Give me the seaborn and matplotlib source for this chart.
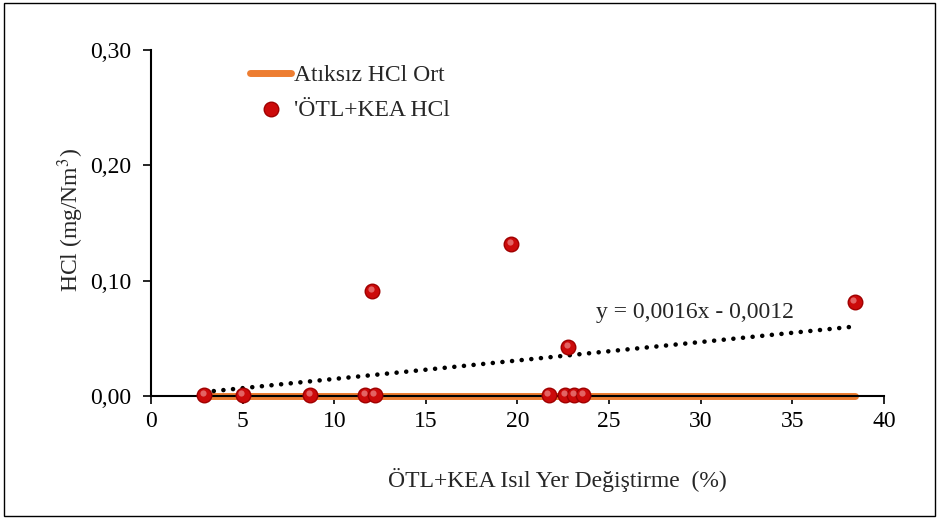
import numpy as np
import pandas as pd
import matplotlib
matplotlib.use("Agg")
import matplotlib.pyplot as plt
from matplotlib.patches import Rectangle
import seaborn as sns

# Isıl yer değiştirme oranı (%) ve ölçülen HCl (mg/Nm3)
replacement = [2.9, 5.0, 8.7, 11.7, 12.05, 12.2, 19.65, 21.7, 22.6, 22.75, 23.1, 23.6, 38.4]
hcl = [0.001, 0.001, 0.001, 0.001, 0.091, 0.001, 0.132, 0.001, 0.001, 0.0425, 0.001, 0.001, 0.0815]

# Atıksız ortalama HCl seviyesi
baseline_x = [2.9, 38.4]
baseline_y = [0.0, 0.0]

# Doğrusal eğilim: y = 0,0016x - 0,0012
slope, intercept = 0.0016, -0.0012
trend_label = "y = 0,0016x - 0,0012"

x_ticks = [0, 5, 10, 15, 20, 25, 30, 35, 40]
y_ticks = [0.0, 0.10, 0.20, 0.30]
y_tick_labels = ["0,00", "0,10", "0,20", "0,30"]

sns.set_theme(style="ticks")
plt.rcParams["font.family"] = ["Liberation Serif", "DejaVu Serif"]
plt.rcParams["mathtext.fontset"] = "stix"

FS = 17

fig = plt.figure(figsize=(9.39, 5.19), dpi=100)
ax = fig.add_axes([0.1608, 0.237, 0.7806, 0.6667])

df_base = pd.DataFrame({"x": baseline_x, "y": baseline_y})
df_pts = pd.DataFrame({"x": replacement, "y": hcl})

sns.lineplot(data=df_base, x="x", y="y", ax=ax, color="#ED7D31", linewidth=5,
             label="Atıksız HCl Ort", zorder=2)

tx = np.array([min(replacement), max(replacement) - 0.3])
ax.plot(tx, slope * tx + intercept, linestyle=(0, (0.01, 2.1)), color="black",
        linewidth=3.3, zorder=3, dash_capstyle="round")

sns.scatterplot(data=df_pts, x="x", y="y", ax=ax, s=110, color="#CC0A0A",
                edgecolor="#A00000", linewidth=1.0, label="'ÖTL+KEA HCl", zorder=4)
# parlaklık vurgusu
ax.scatter(np.array(replacement) - 0.07, np.array(hcl) + 0.0018, s=20,
           color="#F4A0A0", alpha=0.6, linewidth=0, zorder=5)

ax.text(29.7, 0.072, trend_label, fontsize=FS, ha="center", va="center")

ax.set_xlim(0, 40)
ax.set_ylim(0, 0.30)
ax.set_xticks(x_ticks)
ax.set_yticks(y_ticks)
ax.set_yticklabels(y_tick_labels)
ax.tick_params(axis="both", labelsize=FS, direction="out", length=6, width=1.2,
               color="black", labelcolor="black")
ax.tick_params(axis="y", pad=8)
ax.tick_params(axis="x", pad=5)
for side in ("top", "right"):
    ax.spines[side].set_visible(False)
for side in ("left", "bottom"):
    ax.spines[side].set_linewidth(1.5)
    ax.spines[side].set_color("black")
for c in ax.collections + ax.lines:
    c.set_clip_on(False)

ax.set_xlabel("ÖTL+KEA Isıl Yer Değiştirme  (%)", fontsize=FS, va="center", ha="center")
ax.xaxis.set_label_coords(0.554, -0.243)
ax.set_ylabel("HCl (mg/Nm$^3$)", fontsize=FS, va="center", ha="center")
ax.yaxis.set_label_coords(-0.11, 0.51)

leg = ax.legend(loc="upper left", bbox_to_anchor=(0.122, 0.985), frameon=False,
                fontsize=FS, handlelength=1.75, handletextpad=0.1,
                labelspacing=0.55, borderaxespad=0)

fig.patches.append(Rectangle((0.004, 0.006), 0.992, 0.989, transform=fig.transFigure,
                             fill=False, edgecolor="black", linewidth=1.0))

fig.savefig("out.png", dpi=100, facecolor="white")
